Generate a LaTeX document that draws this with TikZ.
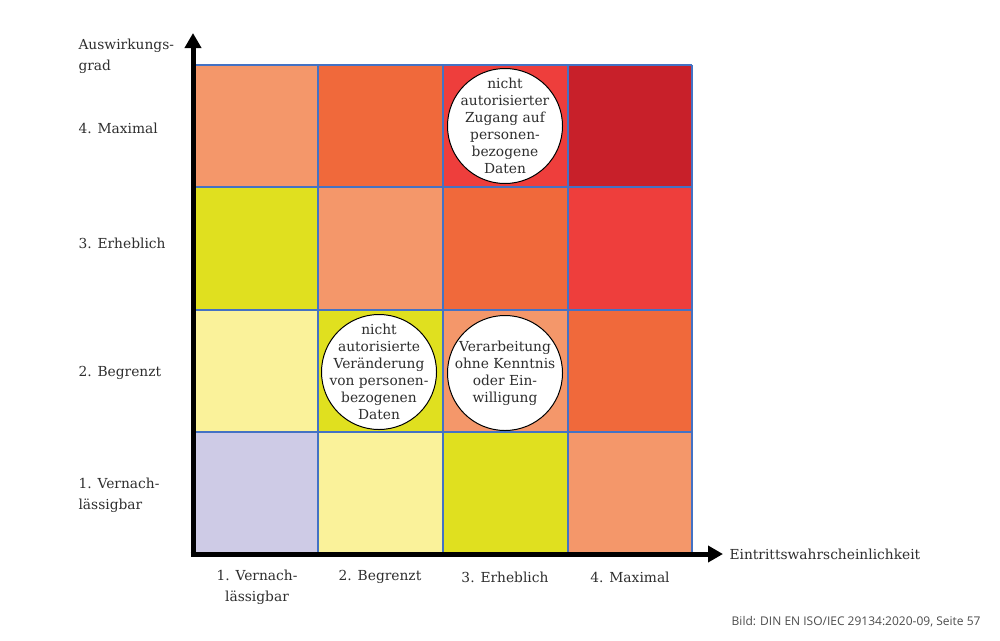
\documentclass[tikz,border=0pt]{standalone}
\usepackage{fontspec}
\setmainfont{DejaVu Serif}
\newfontfamily\creditfont{Open Sans}
\usetikzlibrary{arrows.meta}
\definecolor{cSalmon}{HTML}{F4976A}
\definecolor{cOrange}{HTML}{F0693B}
\definecolor{cRed}{HTML}{EE3E3C}
\definecolor{cDark}{HTML}{C8202A}
\definecolor{cLime}{HTML}{E0E01F}
\definecolor{cPale}{HTML}{FAF29A}
\definecolor{cLav}{HTML}{CECBE6}
\definecolor{gridblue}{HTML}{4472C4}
\definecolor{txt}{HTML}{2E2E2E}
\tikzset{
  riskcircle/.style={circle, draw=black, line width=1pt, fill=white, minimum size=115pt, inner sep=0pt},
  risktext/.style={align=center, inner sep=0pt, font=\fontsize{13.8}{17}\selectfont, text=txt},
  axlabel/.style={font=\fontsize{13.8}{21}\selectfont, text=txt, align=left, anchor=west},
  collabel/.style={font=\fontsize{13.8}{21}\selectfont, text=txt, align=center},
  axis/.style={line width=5pt, -{Triangle[length=15pt,width=16pt]}}
}
\begin{document}
\begin{tikzpicture}[x=1pt,y=-1pt]
\useasboundingbox (0,0) rectangle (1000,640);
% cells: columns 196,318,443,568,692 ; rows 65,187,310,432,552
\def\cx{{196,318,443,568,692}}
\def\ry{{65,187,310,432,552}}
\foreach \r/\cols in {0/{cSalmon,cOrange,cRed,cDark},1/{cLime,cSalmon,cOrange,cRed},2/{cPale,cLime,cSalmon,cOrange},3/{cLav,cPale,cLime,cSalmon}}{
  \foreach \col [count=\c from 0] in \cols {
    \pgfmathsetmacro{\xa}{\cx[\c]}
    \pgfmathsetmacro{\xb}{\cx[\c+1]}
    \pgfmathsetmacro{\ya}{\ry[\r]}
    \pgfmathsetmacro{\yb}{\ry[\r+1]}
    \fill[\col] (\xa,\ya) rectangle (\xb,\yb);
  }
}
\foreach \x in {318,443,568,692} \draw[gridblue, line width=2pt] (\x,65) -- (\x,552);
\foreach \y in {65,187,310,432} \draw[gridblue, line width=2pt] (196,\y) -- (692,\y);
% axes
\coordinate (origin) at (193,554);
\coordinate (ytip) at (193,33);
\coordinate (xtip) at (723,554);
\draw[axis] (193,556.5) -- (ytip);
\draw[axis] (190.5,554) -- (xtip);
% risk circles
\node[riskcircle] (c1) at (505,126) {};
\node[risktext] (t1) at (c1.center) {nicht\\autorisierter\\Zugang auf\\personen-\\bezogene\\Daten};
\node[riskcircle] (c2) at (379,372) {};
\node[risktext] (t2) at (c2.center) {nicht\\autorisierte\\Veränderung\\von personen-\\bezogenen\\Daten};
\node[riskcircle] (c3) at (505,373) {};
\node[risktext] (t3) at (c3.center) {Verarbeitung\\ohne Kenntnis\\oder Ein-\\willigung};
% y labels
\node[axlabel] (ytitle) at (75,56) {Auswirkungs-\\grad};
\node[axlabel] (y4) at (75,128) {4. Maximal};
\node[axlabel] (y3) at (75,243) {3. Erheblich};
\node[axlabel] (y2) at (75,373) {2. Begrenzt};
\node[axlabel] (y1) at (75,495) {1. Vernach-\\lässigbar};
% x labels
\node[collabel] (x1) at (257,587) {1. Vernach-\\lässigbar};
\node[collabel] (x2) at (380,577) {2. Begrenzt};
\node[collabel] (x3) at (505,577) {3. Erheblich};
\node[collabel] (x4) at (630,577) {4. Maximal};
\node[axlabel] (xtitle) at (726,554) {Eintrittswahrscheinlichkeit};
% credit
\node[anchor=east, font=\creditfont\fontsize{12}{14}\selectfont, text=black!70] (credit) at (984,622) {Bild: DIN EN ISO/IEC 29134:2020-09, Seite 57};
\end{tikzpicture}
\end{document}
